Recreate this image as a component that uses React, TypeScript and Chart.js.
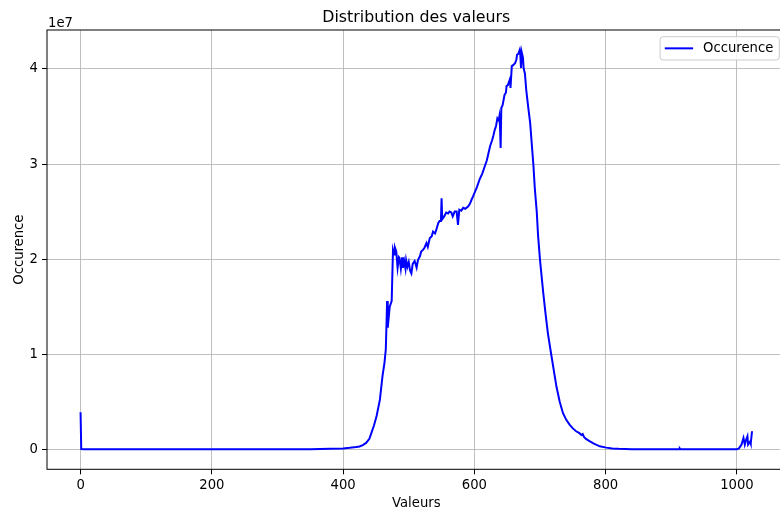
import React, { useEffect, useRef } from "react";
import { Chart, registerables } from "chart.js";

Chart.register(...registerables);

// Reading of the curve: pixel value (x) and occurrence count (y)
const valeurs = [
  0, 1, 5, 50, 100, 200, 300, 350, 380, 400, 410, 420, 425, 430, 435, 440, 443, 447, 451, 456,
  460, 463, 465, 466, 467, 468, 471, 474, 476, 478, 479, 481, 483, 485, 486, 488, 490, 491, 493, 495,
  496, 498, 500, 502, 504, 506, 509, 512, 514, 517, 519, 522, 524, 527, 529, 532, 535, 537, 540, 542,
  545, 547, 549, 550, 551, 554, 557, 560, 562, 565, 567, 570, 573, 575, 577, 580, 583, 586, 590, 593,
  596, 598, 601, 604, 608, 612, 616, 619, 621, 624, 627, 629, 631, 633, 635, 637, 638, 639, 640, 641,
  643, 646, 648, 649, 651, 654, 655, 657, 659, 662, 664, 665, 667, 669, 670, 671, 672, 674, 675, 677,
  679, 682, 685, 687, 690, 692, 695, 697, 700, 703, 705, 708, 712, 717, 721, 725, 730, 735, 740, 745,
  750, 755, 760, 763, 765, 767, 770, 776, 782, 791, 801, 810, 820, 840, 880, 912, 913, 914, 950, 1000,
  1003, 1007, 1010, 1012, 1014, 1016, 1017, 1020, 1021, 1023,
];

const occurences = [
  3900000, 20000, 0, 0, 0, 0, 5000, 20000, 50000, 100000, 160000, 240000, 300000, 450000, 670000, 1100000, 1700000, 2500000, 3500000, 5200000,
  7700000, 9100000, 10500000, 12900000, 15600000, 12800000, 15000000, 15600000, 21000000, 20500000, 21200000, 20800000, 19100000, 20200000, 20100000, 19000000, 20200000, 19100000, 19800000, 19000000,
  19900000, 19200000, 19700000, 18800000, 18500000, 19500000, 19800000, 19100000, 19900000, 20300000, 20800000, 21000000, 21200000, 21700000, 21300000, 22200000, 22400000, 22900000, 22700000, 23100000,
  23800000, 24000000, 24000000, 26400000, 24200000, 24500000, 24900000, 24800000, 25000000, 24900000, 24500000, 25000000, 25000000, 23600000, 25200000, 25100000, 25400000, 25300000, 25500000, 25800000,
  26300000, 26600000, 27100000, 27600000, 28400000, 29000000, 29800000, 30400000, 31000000, 31900000, 32500000, 33000000, 33600000, 34000000, 34800000, 34600000, 35000000, 34000000, 31700000, 35900000,
  36200000, 37300000, 37500000, 38200000, 38300000, 38900000, 38000000, 40300000, 40400000, 40600000, 41000000, 41500000, 41600000, 42000000, 41500000, 40100000, 41800000, 41200000, 40100000, 39500000,
  37800000, 36000000, 34300000, 32500000, 29800000, 27500000, 25000000, 22500000, 19900000, 17800000, 16400000, 14500000, 12200000, 10000000, 8300000, 6600000, 5000000, 3800000, 3100000, 2600000,
  2200000, 1900000, 1700000, 1500000, 1600000, 1300000, 1100000, 840000, 600000, 320000, 180000, 100000, 60000, 20000, 10000, 10000, 100000, 10000, 0, 0,
  100000, 500000, 1200000, 500000, 1000000, 1370000, 500000, 800000, 600000, 1900000,
];

const xTicks = [0, 200, 400, 600, 800, 1000];
const yTicks = [0, 10000000, 20000000, 30000000, 40000000];
const yTickLabels = ["0", "1", "2", "3", "4"];

const titre = "Distribution des valeurs";
const xLabel = "Valeurs";
const yLabel = "Occurence";
const serieLabel = "Occurence";
const offsetText = "1e7";

const FONT = "'DejaVu Sans', sans-serif";

const decor = {
  id: "decor",
  beforeDraw(chart: any) {
    const { ctx } = chart;
    ctx.save();
    ctx.fillStyle = "#ffffff";
    ctx.fillRect(0, 0, chart.width, chart.height);
    ctx.restore();
  },
  afterDraw(chart: any) {
    const { ctx, chartArea: a } = chart;
    ctx.save();
    // frame (spines)
    ctx.strokeStyle = "#000";
    ctx.lineWidth = 1;
    ctx.strokeRect(a.left, a.top, a.right - a.left, a.bottom - a.top);

    ctx.fillStyle = "#000";
    // title
    ctx.font = `15.8px ${FONT}`;
    ctx.textAlign = "center";
    ctx.textBaseline = "alphabetic";
    ctx.fillText(titre, (a.left + a.right) / 2, 22);

    // offset text
    ctx.font = `13.2px ${FONT}`;
    ctx.textAlign = "left";
    ctx.fillText(offsetText, a.left + 1, 26.5);

    // x label
    ctx.textAlign = "center";
    ctx.fillText(xLabel, (a.left + a.right) / 2, 507);

    // y label
    ctx.save();
    ctx.translate(23, (a.top + a.bottom) / 2);
    ctx.rotate(-Math.PI / 2);
    ctx.textAlign = "center";
    ctx.textBaseline = "alphabetic";
    ctx.fillText(yLabel, 0, 0);
    ctx.restore();

    // legend
    ctx.font = `13.2px ${FONT}`;
    const tw = ctx.measureText(serieLabel).width;
    const boxRight = a.right - 6.3;
    const boxTop = a.top + 6.7;
    const textRight = boxRight - 6;
    const textLeft = textRight - tw;
    const lineRight = textLeft - 10;
    const lineLeft = lineRight - 28.3;
    const boxLeft = lineLeft - 4.7;
    const boxH = 23.3;
    const r = 3;
    ctx.beginPath();
    ctx.moveTo(boxLeft + r, boxTop);
    ctx.lineTo(boxRight - r, boxTop);
    ctx.quadraticCurveTo(boxRight, boxTop, boxRight, boxTop + r);
    ctx.lineTo(boxRight, boxTop + boxH - r);
    ctx.quadraticCurveTo(boxRight, boxTop + boxH, boxRight - r, boxTop + boxH);
    ctx.lineTo(boxLeft + r, boxTop + boxH);
    ctx.quadraticCurveTo(boxLeft, boxTop + boxH, boxLeft, boxTop + boxH - r);
    ctx.lineTo(boxLeft, boxTop + r);
    ctx.quadraticCurveTo(boxLeft, boxTop, boxLeft + r, boxTop);
    ctx.closePath();
    ctx.fillStyle = "rgba(255,255,255,0.8)";
    ctx.fill();
    ctx.strokeStyle = "#cccccc";
    ctx.lineWidth = 1;
    ctx.stroke();
    const cy = boxTop + boxH / 2;
    ctx.strokeStyle = "#0000ff";
    ctx.lineWidth = 2;
    ctx.beginPath();
    ctx.moveTo(lineLeft, cy);
    ctx.lineTo(lineRight, cy);
    ctx.stroke();
    ctx.fillStyle = "#000";
    ctx.textAlign = "left";
    ctx.textBaseline = "middle";
    ctx.fillText(serieLabel, textLeft, cy + 0.5);
    ctx.restore();
  },
};

export default function App() {
  const ref = useRef<HTMLCanvasElement>(null);
  useEffect(() => {
    const points = valeurs.map((x, i) => ({ x, y: occurences[i] }));
    const chart = new Chart(ref.current as HTMLCanvasElement, {
      type: "line",
      data: {
        datasets: [
          {
            label: serieLabel,
            data: points,
            borderColor: "#0000ff",
            backgroundColor: "#0000ff",
            borderWidth: 2,
            pointRadius: 0,
            tension: 0,
            fill: false,
          },
        ],
      },
      options: {
        responsive: false,
        animation: false,
        devicePixelRatio: 1,
        layout: { padding: { left: 0, top: 30, right: 14.4, bottom: 0 } },
        plugins: {
          legend: { display: false },
          title: { display: false },
          tooltip: { enabled: false },
        },
        scales: {
          x: {
            type: "linear",
            min: -51.15,
            max: 1074.15,
            afterFit: (s: any) => {
              s.height = 45.7;
            },
            afterBuildTicks: (s: any) => {
              s.ticks = xTicks.map((v) => ({ value: v }));
            },
            border: { display: false },
            grid: {
              color: "#b0b0b0",
              lineWidth: 0.8,
              tickColor: "#000",
              tickLength: 5,
              tickWidth: 1,
            },
            ticks: {
              color: "#000",
              font: { family: FONT, size: 13.2 },
              padding: 3,
              maxRotation: 0,
              callback: (v: any) => String(v),
            },
          },
          y: {
            type: "linear",
            min: -2100000,
            max: 44100000,
            afterFit: (s: any) => {
              s.width = 47;
            },
            afterBuildTicks: (s: any) => {
              s.ticks = yTicks.map((v) => ({ value: v }));
            },
            border: { display: false },
            grid: {
              color: "#b0b0b0",
              lineWidth: 0.8,
              tickColor: "#000",
              tickLength: 5,
              tickWidth: 1,
            },
            ticks: {
              color: "#000",
              font: { family: FONT, size: 13.2 },
              padding: 4,
              callback: (v: any) => {
                const i = yTicks.indexOf(Number(v));
                return i >= 0 ? yTickLabels[i] : "";
              },
            },
          },
        },
      },
      plugins: [decor],
    } as any);
    return () => chart.destroy();
  }, []);
  return (
    <div
      style={{
        position: "fixed",
        left: 0,
        top: 0,
        width: 780,
        height: 515,
        overflow: "hidden",
        background: "#fff",
      }}
    >
      <div style={{ width: 800, height: 515 }}>
        <canvas
          ref={ref}
          width={800}
          height={515}
          style={{ display: "block", width: 800, height: 515 }}
        />
      </div>
    </div>
  );
}
